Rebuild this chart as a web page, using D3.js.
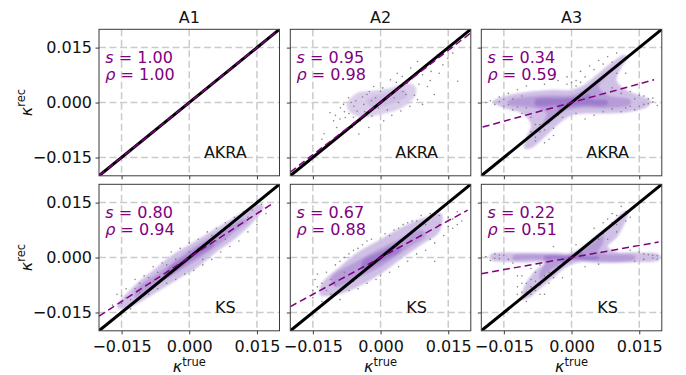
<!DOCTYPE html>
<html>
<head>
<meta charset="utf-8">
<script src="https://cdn.jsdelivr.net/npm/d3@7"></script>
<style>
  body { margin: 0; background: #fff; }
  svg { display: block; font-family: "DejaVu Sans", sans-serif; }
</style>
</head>
<body>
<div id="viz"></div>
<script>
// all kappa values below are in units of 1e-3
const columns = ["A1", "A2", "A3"];
const methods = ["AKRA", "KS"];
const slopes = { AKRA: [1.00, 0.95, 0.34], KS: [0.80, 0.67, 0.22] };
const rhos = { AKRA: [1.00, 0.98, 0.59], KS: [0.94, 0.88, 0.51] };
const fitRanges = {
  AKRA: [[-20, 20], [-20, 20], [-19.7, 18.3]],
  KS: [[-20, 18.7], [-20, 19.3], [-20, 19.3]]
};
const tickValues = [-15, 0, 15];

// outlines of the point cloud, light / medium / dense part
const lightClouds = {
  "AKRA-A2": [[-7.5,-0.5],[-5.2,2.6],[-1.5,3.3],[2.2,4.0],[5.2,5.2],[7.6,4.6],[7.8,2.2],[5.9,-0.5],[3.0,-2.3],[-0.7,-3.4],[-4.1,-4.0],[-6.6,-2.8]],
  "AKRA-A3": [[-17.5,0.3],[-14,2],[-9,3],[-4,3.5],[0,3.5],[3,5],[6,8],[9,11],[11.5,13],[12.5,12.5],[11,9.5],[10,6],[12,3.5],[15,2],[17.5,0.5],[17,-1],[13,-2.5],[8,-3],[3,-3],[0,-3.5],[-3,-6],[-6,-9.5],[-9,-12.5],[-10.5,-12.5],[-10,-9.5],[-9,-6],[-11,-3],[-15,-1.5]],
  "KS-A1": [[-16,-13.5],[-12,-7.5],[-8,-3.5],[-4,0.5],[0,3.5],[4,6.5],[8,9.5],[12,12.5],[15,14.5],[16.5,14],[14,9.5],[10,5],[6,1.5],[2,-2.5],[-2,-5.5],[-6,-8.5],[-10,-11.5],[-14,-14]],
  "KS-A2": [[-13.5,-10],[-13,-7],[-9,-2.5],[-5,1.5],[0,5],[5,8.5],[10,11],[13.5,12],[13,7],[9,3.5],[5,0],[0,-4.5],[-5,-8],[-9,-10],[-13,-10.5]],
  "KS-A3": [[-18,0.8],[-10,1.3],[-4,1.3],[0,1.3],[3,3.5],[6,6.5],[9,9.5],[11.5,12.5],[12.5,12.5],[12,10],[10,5.5],[8,3],[10,1.6],[15,1.4],[19.5,0.8],[19.5,-0.6],[14,-1.3],[6,-1.5],[2,-1.3],[-1,-2.5],[-4,-5.5],[-7,-8.5],[-9.5,-11],[-11,-11.5],[-10.5,-8],[-8,-3.5],[-6,-1.5],[-12,-1.3],[-18,-0.6]]
};
const midClouds = {
  "AKRA-A2": [[-3,0.8],[1,2.5],[5,3.5],[6,2],[2,-0.5],[-2,-1.5]],
  "AKRA-A3": [[-14,0.5],[-8,1.8],[-3,2],[0,2],[3,3.5],[7,7],[8,7.5],[6,4.5],[8,2],[13,0.8],[13,-0.5],[8,-1.5],[2,-1.5],[-2,-2.5],[-5,-5.5],[-6.5,-6],[-5.5,-3],[-8,-1.5],[-14,-0.5]],
  "KS-A1": [[-12,-9],[-6,-3.5],[0,2],[6,6.5],[12,10.5],[13,10],[10,7],[6,3],[0,-2],[-6,-6.5],[-12,-11]],
  "KS-A2": [[-11,-5.5],[-6,-1.5],[0,2.5],[5,5.5],[9,7.5],[10,6],[6,2.5],[0,-2.5],[-5,-5.5],[-10,-8]],
  "KS-A3": [[-13,0.5],[-4,0.8],[0,0.9],[4,3.5],[7,6],[7,4],[6,1.5],[14,0.5],[14,-0.6],[5,-1],[0,-0.9],[-4,-3],[-7,-6],[-7,-4],[-6,-1],[-13,-0.5]]
};
const coreClouds = {
  "AKRA-A3": [[-8,0.8],[-2,1.2],[2,1.5],[4,2.5],[4,1.2],[8,0.5],[8,-0.5],[2,-0.8],[-2,-1.5],[-3,-2.5],[-3,-1],[-8,-0.8]],
  "KS-A1": [[-5,-3.5],[0,1],[5,4.5],[5.5,3.5],[0,-1],[-5,-5.2]],
  "KS-A2": [[-4,-1],[0,1.5],[4,3.5],[4.5,2],[0,-1.2],[-4,-3.2]],
  "KS-A3": [[-6,0.4],[0,0.6],[2,1.5],[3,0.5],[6,0.3],[6,-0.4],[0,-0.6],[-2,-1.5],[-3,-0.5],[-6,-0.4]]
};

// sparse outlying points around the clouds
const outliers = {
  "AKRA-A2": [[-11.2,-2.8],[-10.4,-5.0],[-9.7,-6.8],[-8.9,-1.4],[-8.2,-0.5],[-7.8,-4.1],[-7.1,1.3],[-6.3,-6.8],[-5.9,-1.0],[-5.2,-2.3],[-4.5,-5.0],[-3.7,-0.5],[-3.0,2.2],[-1.9,-3.7],[-1.1,1.3],[0,3.1],[2.2,6.2],[3.7,8.0],[4.8,7.1],[5.9,5.3],[6.7,9.4],[8.2,11.2],[9.3,7.6],[10.4,4.4],[11.2,8.5],[11.9,2.2],[12.6,13.0],[13.8,10.3],[14.9,12.1],[15.6,14.8],[17.1,5.8],[9.3,-0.5],[4.5,-2.3],[0.7,-5.0],[-2.6,-6.8],[-4.8,-8.6],[3.0,1.3],[5.6,2.2],[-1.5,4.4],[8.2,0.8],
    [-10,-3.5],[-9,-4.5],[-8,-2.5],[-7,-3],[-6.5,0],[-6,-4],[-5.5,0.5],[-4,1.5],[-3.5,-2.5],[-2.5,3],[-2,0.5],[-0.5,-1.5],[0.5,4],[1.5,-2],[2.5,-3.5],[3.5,5.5],[4,0],[5,3],[6.5,-1],[7,6.5],[7.5,2],[8.5,5],[10,9.5],[11,6],[13,8],[16,13.5],[-12.5,-8.5],[-13,-10]],
  "AKRA-A3": [[-18,0.5],[-17,-0.5],[-16,1.5],[-15,-1],[-14,2.5],[-13,-2],[-12,3.5],[-11,-3],[-10,4.5],[-9,-4],[-8,-6],[-7,-8],[-6,5],[-5,-10],[-4,-7],[-3,6],[-2,-4],[-1,7],[1,-3],[2,8.5],[3,-4.5],[4,10],[5,-3.5],[6,11.5],[7,-2.5],[8,12.5],[9,4],[10,13.5],[11,2.5],[12,8],[13,3],[14,-2],[15,2],[16,-0.5],[17,1],[18,0.2],[19,-0.8],[-19,0],[-6,-11],[-8,-9.5],[12,-1.5],[10,8],[9,-1.8],[1,4.5],[2,5.5],[-1,5],
    [-16,0.2],[-15,0.8],[-14,-0.6],[-13,1],[-12,-1.2],[-11,1.8],[-10,-1.5],[-9,-8],[-8,-10.5],[-7,-6],[-6,-7.5],[-5,-5.5],[-4,-9],[-3,-3.5],[0,5.5],[1,6],[3,7],[5,9],[7,10.5],[9,11],[14,1],[15,-1],[16,1.8],[17,-0.3],[18,1.2],[11,-2.5],[13,-1]],
  "KS-A1": [[-17,-13],[-16,-10],[-15,-12.5],[-14,-8.5],[-13,-11.5],[-12,-6],[-11,-9.5],[-10,-5],[-9,-10],[-8,-2.5],[-7,-8.5],[-6,-1.5],[-5,-7],[-4,1.5],[-3,-6],[-2,2.5],[-1,-4.5],[0,4],[1,-3.5],[2,5],[3,-2],[4,7],[5,-0.5],[6,8],[7,1.5],[8,9.5],[9,3],[10,11],[11,4.5],[12,12.5],[13,7],[14,13],[15,9],[16,14.5],[17,12],[-8,-6.5],[6,4.5],[-13,-14],
    [-15,-10.5],[-14,-11],[-12,-8.5],[-11,-7],[-9,-5.5],[-7,-4],[-5,-2],[-3,-0.5],[0,1.5],[2,2.5],[4,4],[5,6],[7,7],[9,8.5],[11,9],[13,11],[15,12],[3,-0.5],[-4,-4],[8,5]],
  "KS-A2": [[-15,-11],[-14.5,-6],[-14,-8],[-13,-12],[-12,-4],[-11,-10],[-10,-2],[-9,-11.5],[-8,0],[-7,-9],[-6,2],[-5,-8.5],[-4,3.5],[-3,-7],[-2,5],[-1,-6],[1,6.5],[2,-4],[3,7.5],[4,-2.5],[5,9],[6,-1],[7,10],[8,1],[9,11.5],[10,2],[11,12],[12,4],[13,9],[14,6],[15,11],[16,8],[17,12.5],[18,10],[12,-1],[-14,-4.5],
    [-15,-9],[-13,-7],[-12,-9],[-11,-6],[-10,-7.5],[-9,-1],[-8,-4],[-7,1],[-6,-6.5],[-5,2.5],[-3,4.5],[0,-5],[2,6],[4,8],[6,9.5],[8,10],[10,9],[11,5],[13,11.5],[15,8.5],[16,10.5],[17,9]],
  "KS-A3": [[-19,0.3],[-18,-0.8],[-17,1],[-16,-0.3],[-15,0.6],[-13,-1.5],[-12,-8],[-11,-9.5],[-11,-5],[-10,-7],[-10,-12],[-9,-3],[-9,-10],[-8,-6.5],[-8,-9],[-7,-2],[-6,-10],[-5,-4],[-4,3],[-2,-5.5],[1,3.5],[3,-2.5],[5,8],[6,-1.8],[7,9.5],[8,5],[9,12],[10,7],[11,14],[12,10],[13,2],[14,-1],[15,1.5],[16,-0.5],[17,0.8],[18,-0.2],[19,0.5],[-3,-2.5],[10,11.5],[8,10.5],
    [-17,-0.2],[-16,0.7],[-14,-0.5],[-12,-5],[-12,-10],[-11,-7],[-10,-9.5],[-9,-6],[-9,-8],[-8,-4],[-7,-7.5],[-7,-10],[-6,-5],[-5,-7],[-4,-5.5],[6,5],[7,6.5],[8,8],[9,9.5],[10,9],[11,11],[12,12.5],[13,11],[16,1],[18,0.6],[19,-0.4]]
};

const width = 686, height = 375;
const colLeft = [99, 290.3, 481.3];
const rowTop = [29.3, 184.3];
const pw = 180.5, ph = 146.5;
const purple = "#800080";
const fmt = d => d3.format(".3f")(d / 1000);

const svg = d3.select("#viz").append("svg")
  .attr("width", width)
  .attr("height", height);

// soft edge for the density patches
const defs = svg.append("defs");
const soft = defs.append("filter").attr("id", "soft")
  .attr("x", "-20%").attr("y", "-20%").attr("width", "140%").attr("height", "140%");
soft.append("feGaussianBlur").attr("stdDeviation", 1.1);

const x = d3.scaleLinear().domain([-20, 20]).range([0, pw]);
const y = d3.scaleLinear().domain([-20, 20]).range([ph, 0]);
const area = d3.line().x(d => x(d[0])).y(d => y(d[1])).curve(d3.curveCatmullRomClosed.alpha(0.5));

methods.forEach((method, ri) => {
  columns.forEach((col, ci) => {
    const key = `${method}-${col}`;
    const g = svg.append("g")
      .attr("transform", `translate(${colLeft[ci]},${rowTop[ri]})`);

    const clipId = `clip-${ri}-${ci}`;
    g.append("clipPath").attr("id", clipId)
      .append("rect").attr("width", pw).attr("height", ph);

    // grid
    const grid = g.append("g").attr("stroke", "#cbcbcb").attr("stroke-width", 1.5)
      .attr("stroke-dasharray", "7,3.5");
    grid.selectAll(".gx").data(tickValues).enter().append("line")
      .attr("x1", d => x(d)).attr("x2", d => x(d)).attr("y1", 0).attr("y2", ph);
    grid.selectAll(".gy").data(tickValues).enter().append("line")
      .attr("y1", d => y(d)).attr("y2", d => y(d)).attr("x1", 0).attr("x2", pw);

    const inner = g.append("g").attr("clip-path", `url(#${clipId})`);

    // point cloud
    const cloud = inner.append("g").attr("filter", "url(#soft)");
    if (lightClouds[key]) {
      cloud.append("path").attr("d", area(lightClouds[key]))
        .attr("fill", key === "AKRA-A2" ? "#d6c9e9" : "#cbb9e3").attr("fill-opacity", 0.9);
    }
    if (midClouds[key]) {
      cloud.append("path").attr("d", area(midClouds[key]))
        .attr("fill", key === "AKRA-A2" ? "#c8b7e0" : "#ab8fd3").attr("fill-opacity", 0.7);
    }
    if (coreClouds[key]) {
      cloud.append("path").attr("d", area(coreClouds[key]))
        .attr("fill", "#8962c2").attr("fill-opacity", 0.55);
    }
    if (outliers[key]) {
      inner.selectAll("circle").data(outliers[key]).enter().append("circle")
        .attr("cx", d => x(d[0])).attr("cy", d => y(d[1]))
        .attr("r", 0.8).attr("fill", "#777").attr("fill-opacity", 0.9);
    }

    // identity line
    inner.append("line")
      .attr("x1", x(-20)).attr("y1", y(-20)).attr("x2", x(20)).attr("y2", y(20))
      .attr("stroke", "#000").attr("stroke-width", 3);

    // fitted line
    const s = slopes[method][ci];
    const [x0, x1] = fitRanges[method][ci];
    inner.append("line")
      .attr("x1", x(x0)).attr("y1", y(s * x0)).attr("x2", x(x1)).attr("y2", y(s * x1))
      .attr("stroke", purple).attr("stroke-width", 1.5)
      .attr("stroke-dasharray", "7,4");

    // frame
    g.append("rect").attr("width", pw).attr("height", ph)
      .attr("fill", "none").attr("stroke", "#3a3a3a").attr("stroke-width", 1);

    // ticks
    const yAxis = d3.axisLeft(y).tickValues(tickValues).tickSize(3.5).tickPadding(3.5)
      .tickFormat(ci === 0 ? fmt : "");
    const xAxis = d3.axisBottom(x).tickValues(tickValues).tickSize(3.5).tickPadding(3.5)
      .tickFormat(ri === 1 ? fmt : "");
    const ya = g.append("g").call(yAxis);
    const xa = g.append("g").attr("transform", `translate(0,${ph})`).call(xAxis);
    [ya, xa].forEach(a => {
      a.select(".domain").remove();
      a.selectAll("line").attr("stroke", "#3a3a3a");
      a.selectAll("text").attr("fill", "#111").style("font-size", "16px")
        .style("font-family", "DejaVu Sans");
    });
    xa.selectAll("text").attr("dy", "0.9em");

    // annotations
    const l1 = g.append("text").attr("fill", purple).style("font-size", "16px")
      .attr("x", 6.3).attr("y", 33.4);
    l1.append("tspan").attr("font-style", "italic").text("s");
    l1.append("tspan").text(` = ${s.toFixed(2)}`);
    const l2 = g.append("text").attr("fill", purple).style("font-size", "16px")
      .attr("x", 6.3).attr("y", 51);
    l2.append("tspan").attr("font-style", "italic").text("ρ");
    l2.append("tspan").text(` = ${rhos[method][ci].toFixed(2)}`);

    g.append("text").attr("x", pw * 0.70).attr("y", ph - 17.8)
      .attr("text-anchor", "middle").style("font-size", "16px").attr("fill", "#111")
      .text(method);

    if (ri === 0) {
      g.append("text").attr("x", pw / 2).attr("y", -6)
        .attr("text-anchor", "middle").style("font-size", "16px").attr("fill", "#111")
        .text(col);
    }
    if (ri === 1) {
      const xl = g.append("text").attr("x", pw / 2).attr("y", ph + 41.5)
        .attr("text-anchor", "middle").style("font-size", "16px").attr("fill", "#111");
      xl.append("tspan").attr("font-style", "italic").text("κ");
      xl.append("tspan").attr("dy", -6.5).style("font-size", "11.5px").text("true");
    }
    if (ci === 0) {
      const yl = g.append("text")
        .attr("transform", `translate(${32 - colLeft[0]},${ph / 2}) rotate(-90)`)
        .attr("text-anchor", "middle").style("font-size", "16px").attr("fill", "#111");
      yl.append("tspan").attr("font-style", "italic").text("κ");
      yl.append("tspan").attr("dy", -7).style("font-size", "11.5px").text("rec");
    }
  });
});
</script>
</body>
</html>
